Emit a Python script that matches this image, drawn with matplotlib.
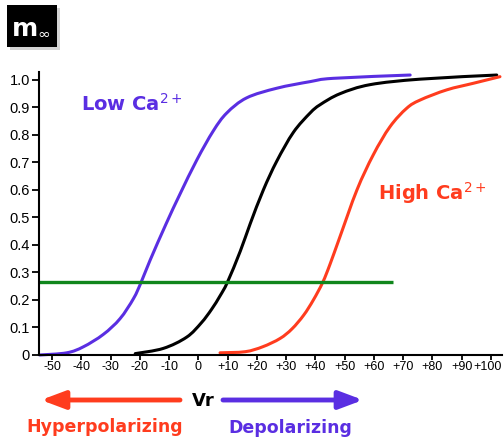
import matplotlib
matplotlib.use("Agg")
import matplotlib.pyplot as plt
import matplotlib.transforms as mtransforms
import numpy as np
from matplotlib.patches import PathPatch, Rectangle
from matplotlib.path import Path

# Steady-state activation m_inf vs membrane potential (mV) for three Ca2+ levels
low_ca_v = [-54.2, -45.0, -39.3, -32.5, -26.8, -22.2, -19.6, -16.5, -11.0, -6.3,
            -0.5, 5.1, 9.7, 16.5, 26.8, 38.2, 46.1, 72.4]
low_ca_m = [0.0, 0.008, 0.03, 0.075, 0.132, 0.205, 0.264, 0.345, 0.478, 0.585,
            0.71, 0.815, 0.88, 0.935, 0.97, 0.994, 1.006, 1.018]

normal_v = [-21.6, -12.0, -4.0, 1.0, 4.5, 7.4, 9.9, 14.3, 17.7, 22.2, 26.8,
            32.5, 38.2, 41.6, 48.4, 58.7, 75.8, 102.0]
normal_m = [0.005, 0.024, 0.065, 0.117, 0.166, 0.215, 0.264, 0.377, 0.477, 0.6,
            0.705, 0.81, 0.88, 0.91, 0.95, 0.983, 1.003, 1.018]

high_ca_v = [7.4, 16.0, 22.0, 27.9, 32.0, 36.0, 39.3, 42.5, 45.0, 48.4, 54.2,
             59.8, 65.5, 71.2, 75.8, 84.9, 94.0, 103.1]
high_ca_m = [0.008, 0.012, 0.03, 0.06, 0.095, 0.145, 0.2, 0.264, 0.33, 0.43,
             0.6, 0.728, 0.83, 0.897, 0.927, 0.964, 0.988, 1.012]

threshold_m = 0.265
threshold_v_end = 66.5

x_ticks = list(range(-50, 101, 10))
x_tick_labels = [f"+{v}" if v > 0 else str(v) for v in x_ticks]
y_ticks = [i / 10 for i in range(11)]
y_tick_labels = ["0"] + [f"{v:.1f}" for v in y_ticks[1:]]

PURPLE = "#5a2ee2"
RED = "#ff3c1e"
GREEN = "#10861c"
TICK_FONT = ["Liberation Sans", "DejaVu Sans"]

W, H = 504, 445
fig = plt.figure(figsize=(W / 100, H / 100), dpi=100)


def fx(px):
    return px / W


def fy(py):
    return 1 - py / H


def smooth_curve(ax, xs, ys, **kw):
    """Draw a Catmull-Rom style cubic Bezier through the given points."""
    p = np.column_stack([xs, ys]).astype(float)
    verts = [p[0]]
    codes = [Path.MOVETO]
    n = len(p)
    for i in range(n - 1):
        p0 = p[max(i - 1, 0)]
        p1, p2 = p[i], p[i + 1]
        p3 = p[min(i + 2, n - 1)]
        verts += [p1 + (p2 - p0) / 6, p2 - (p3 - p1) / 6, p2]
        codes += [Path.CURVE4] * 3
    patch = PathPatch(Path(verts, codes), fill=False, transform=ax.transData,
                      clip_on=False, capstyle="round", joinstyle="round", **kw)
    ax.add_patch(patch)


ax = fig.add_axes([fx(39), fy(355), fx(502) - fx(39), fy(72) - fy(355)])
v_min, v_max = -54.5, 103.8
ax.set_xlim(v_min, v_max)
ax.set_ylim(0, 1.029)

smooth_curve(ax, low_ca_v, low_ca_m, edgecolor=PURPLE, lw=2.2)
smooth_curve(ax, normal_v, normal_m, edgecolor="black", lw=2.2)
smooth_curve(ax, high_ca_v, high_ca_m, edgecolor=RED, lw=2.2)
ax.hlines(threshold_m, v_min, threshold_v_end, color=GREEN, lw=2.4)

for side in ("top", "right"):
    ax.spines[side].set_visible(False)
for side in ("left", "bottom"):
    ax.spines[side].set_linewidth(1.5)

ax.set_xticks(x_ticks)
ax.set_xticklabels(x_tick_labels, fontsize=9, family=TICK_FONT)
ax.set_yticks(y_ticks)
ax.set_yticklabels(y_tick_labels, fontsize=10.5, family=TICK_FONT)
ax.tick_params(axis="x", length=3.6, width=1.3, pad=0.5)
ax.tick_params(axis="y", length=5, width=1.3, pad=1.5)

# nudge the last voltage label so it stays inside the figure
last = ax.get_xticklabels()[-1]
last.set_transform(last.get_transform()
                   + mtransforms.ScaledTranslation(-0.03, 0, fig.dpi_scale_trans))

fig.text(fx(81), fy(104), r"Low Ca$^{2+}$", color=PURPLE, fontsize=14,
         fontweight="bold", va="center", ha="left")
fig.text(fx(378), fy(193), r"High Ca$^{2+}$", color=RED, fontsize=14,
         fontweight="bold", va="center", ha="left")

# m_inf badge with drop shadow
fig.patches.append(Rectangle((fx(10), fy(50)), fx(50), fy(8) - fy(50),
                             transform=fig.transFigure, facecolor="#b8b8b8",
                             edgecolor="none", alpha=0.6))
fig.patches.append(Rectangle((fx(7), fy(47)), fx(50), fy(5) - fy(47),
                             transform=fig.transFigure, facecolor="black",
                             edgecolor="none"))
fig.text(fx(12), fy(29), "m", color="white", fontsize=18, fontweight="bold",
         va="center", ha="left")
fig.text(fx(37), fy(34), "\u221e", color="white", fontsize=11,
         va="center", ha="left")

# direction arrows under the voltage axis
arrow_kw = dict(arrowstyle="-|>,head_length=1.2,head_width=0.45", lw=3.5,
                mutation_scale=12, shrinkA=0, shrinkB=0)
ax.annotate("", xy=(41, H - 400), xytext=(180, H - 400),
            xycoords="figure pixels", textcoords="figure pixels",
            annotation_clip=False, arrowprops=dict(color=RED, **arrow_kw))
ax.annotate("", xy=(363, H - 400), xytext=(223, H - 400),
            xycoords="figure pixels", textcoords="figure pixels",
            annotation_clip=False, arrowprops=dict(color=PURPLE, **arrow_kw))
fig.text(fx(203), fy(401), "Vr", fontsize=13, fontweight="bold",
         ha="center", va="center")
fig.text(fx(26), fy(427), "Hyperpolarizing", color=RED, fontsize=12.5,
         fontweight="bold", ha="left", va="center")
fig.text(fx(228), fy(428), "Depolarizing", color=PURPLE, fontsize=12.5,
         fontweight="bold", ha="left", va="center")

fig.savefig("out.png", dpi=100)
